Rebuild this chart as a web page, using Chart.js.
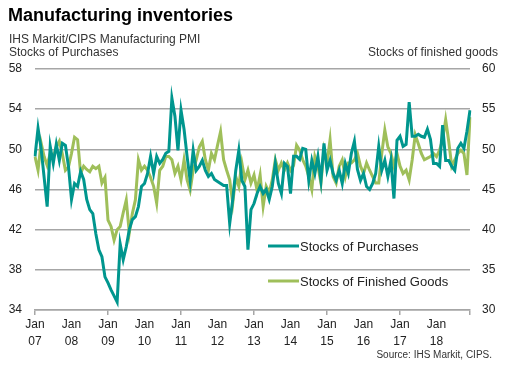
<!DOCTYPE html>
<html>
<head>
<meta charset="utf-8">
<script src="https://cdn.jsdelivr.net/npm/chart.js@4.4.1/dist/chart.umd.min.js"></script>
<style>
html, body { margin: 0; padding: 0; background: #fff; }
#wrap { position: relative; width: 509px; height: 375px; }
</style>
</head>
<body>
<div id="wrap"><canvas id="invChart"></canvas></div>
<script>
// monthly PMI readings, Jan 2007 - Dec 2018
const purchases = [
  49.3, 52.1, 50.1, 47.2, 44.3, 50.3, 48.6, 50.5, 48.9, 50.6, 50.4, 48.3,
  45.0, 46.6, 46.3, 47.8, 47.0, 45.0, 44.0, 43.6, 41.6, 40.0, 39.3, 37.3,
  36.7, 36.0, 35.4, 34.8, 40.6, 39.0, 40.3, 42.0, 43.0, 43.3, 44.3, 46.3,
  46.6, 47.6, 49.3, 47.6, 49.3, 48.6, 49.0, 49.6, 49.8, 55.1, 53.3, 49.9,
  53.9, 52.0, 49.3, 46.9, 49.9, 47.9, 48.3, 48.9, 47.9, 47.3, 47.6, 47.0,
  46.8, 46.6, 46.4, 46.4, 42.6, 45.0, 47.9, 49.9, 46.9, 46.3, 40.0, 44.0,
  44.6, 45.6, 46.3, 45.6, 46.0, 45.0, 46.3, 48.6, 46.6, 45.6, 48.6, 48.3,
  45.6, 49.3, 49.3, 49.0, 50.1, 50.0, 46.9, 48.9, 47.6, 49.3, 46.9, 50.6,
  47.9, 48.9, 47.6, 46.9, 47.9, 46.6, 48.6, 47.6, 49.6, 50.8, 48.0, 46.9,
  47.6, 46.3, 46.0, 46.6, 47.6, 50.3, 47.9, 48.9, 47.3, 48.9, 45.1, 50.9,
  51.3, 50.3, 50.5, 54.7, 51.3, 51.3, 51.5, 51.3, 51.2, 52.0, 51.0, 48.6,
  48.6, 48.3, 52.4, 48.9, 48.9, 48.3, 47.9, 50.1, 50.6, 50.1, 51.8, 53.9
];
const finishedGoods = [
  49.1, 47.4, 50.8, 49.1, 48.0, 49.5, 49.0, 50.3, 51.0, 49.4, 47.4, 47.8,
  49.5, 51.5, 51.2, 47.0, 47.9, 47.5, 47.2, 47.9, 47.6, 47.9, 45.8, 46.5,
  41.2, 40.4, 38.7, 40.0, 40.4, 42.1, 43.7, 39.6, 42.0, 43.7, 48.7, 47.4,
  47.9, 47.4, 46.5, 45.4, 43.3, 47.4, 47.9, 49.1, 49.1, 48.7, 47.0, 47.9,
  46.2, 48.7, 46.2, 44.9, 47.4, 48.7, 50.3, 51.0, 48.7, 47.4, 49.5, 48.7,
  50.5, 52.2, 48.7, 47.4, 46.2, 43.3, 46.6, 45.4, 48.3, 46.2, 47.4, 45.8,
  46.8, 44.9, 46.8, 42.9, 45.4, 44.6, 46.2, 48.7, 47.4, 48.3, 47.4, 48.3,
  47.4, 48.0, 50.5, 49.9, 48.7, 47.9, 46.6, 45.0, 49.1, 47.9, 45.8, 49.9,
  48.3, 51.2, 46.6, 45.8, 47.9, 48.7, 46.6, 48.3, 48.3, 48.7, 49.5, 47.9,
  47.0, 48.3, 47.4, 46.6, 45.8, 45.8, 49.5, 52.4, 50.3, 49.5, 47.9, 49.5,
  47.9, 47.0, 47.4, 46.2, 48.7, 51.8, 50.7, 49.5, 48.7, 48.9, 49.1, 49.5,
  49.1, 49.9, 51.2, 53.7, 51.0, 47.9, 48.7, 49.5, 49.9, 49.5, 46.8, 54.0
];
const yearLabels = ['07', '08', '09', '10', '11', '12', '13', '14', '15', '16', '17', '18'];

const months = [];
yearLabels.forEach(y => {
  for (let m = 1; m <= 12; m++) months.push(y + '-' + m);
});

const GRID = '#a6a6a6';
const FONT = '"Liberation Sans", Arial, sans-serif';

// titles, source note and in-chart legend
const textPlugin = {
  id: 'texts',
  afterDraw(chart) {
    const c = chart.ctx;
    c.save();
    c.textBaseline = 'middle';
    c.fillStyle = '#000';
    c.font = 'bold 18px ' + FONT;
    c.fillText('Manufacturing inventories', 8, 16);
    c.fillStyle = '#333';
    c.font = '12px ' + FONT;
    c.fillText('IHS Markit/CIPS Manufacturing PMI', 9, 40);
    c.fillText('Stocks of Purchases', 9, 53);
    c.textAlign = 'right';
    c.fillText('Stocks of finished goods', 498, 53);
    c.font = '10px ' + FONT;
    c.fillText('Source: IHS Markit, CIPS.', 492, 355);

    c.textAlign = 'left';
    c.font = '13px ' + FONT;
    const rows = [246, 281];
    chart.data.datasets.forEach((ds, i) => {
      c.strokeStyle = ds.borderColor;
      c.lineWidth = 3;
      c.beginPath();
      c.moveTo(268, rows[i]);
      c.lineTo(299, rows[i]);
      c.stroke();
      c.fillStyle = '#222';
      c.fillText(ds.label, 300, rows[i] + 1);
    });
    c.restore();
  }
};

const ctx = document.getElementById('invChart').getContext('2d');
new Chart(ctx, {
  type: 'line',
  data: {
    labels: months,
    datasets: [{
      label: 'Stocks of Purchases',
      data: purchases,
      borderColor: '#00968e',
      borderWidth: 3,
      pointRadius: 0,
      yAxisID: 'yL'
    }, {
      label: 'Stocks of Finished Goods',
      data: finishedGoods,
      borderColor: '#9fbf5a',
      borderWidth: 3,
      pointRadius: 0,
      yAxisID: 'yR'
    }]
  },
  options: {
    responsive: true,
    maintainAspectRatio: false,
    animation: false,
    layout: { padding: { top: 69, left: 0, right: 0, bottom: 0 } },
    plugins: {
      legend: { display: false },
      tooltip: { enabled: false }
    },
    scales: {
      x: {
        offset: false,
        afterFit: s => { s.height = 65; },
        border: { display: true, color: GRID, width: 1.5 },
        grid: {
          drawOnChartArea: false,
          tickLength: 5,
          lineWidth: 1.5,
          color: c => (c.index % 24 === 0 || c.index === 143) ? GRID : 'rgba(0,0,0,0)'
        },
        ticks: {
          autoSkip: false,
          maxRotation: 0,
          padding: 2,
          color: '#222',
          font: { family: FONT, size: 12, lineHeight: 1.35 },
          callback: (v, i) => i % 12 === 0 ? ['Jan', yearLabels[i / 12]] : ''
        }
      },
      yL: {
        position: 'left',
        min: 34,
        max: 58,
        afterFit: s => { s.width = 35; },
        border: { display: false },
        grid: { color: GRID, lineWidth: 1.5, drawTicks: false },
        ticks: {
          stepSize: 4,
          padding: 13,
          color: '#222',
          font: { family: FONT, size: 12 }
        }
      },
      yR: {
        position: 'right',
        min: 30,
        max: 60,
        afterFit: s => { s.width = 39; },
        border: { display: false },
        grid: { drawOnChartArea: false, drawTicks: false },
        ticks: {
          stepSize: 5,
          padding: 12,
          color: '#222',
          font: { family: FONT, size: 12 }
        }
      }
    }
  },
  plugins: [textPlugin]
});
</script>
</body>
</html>
